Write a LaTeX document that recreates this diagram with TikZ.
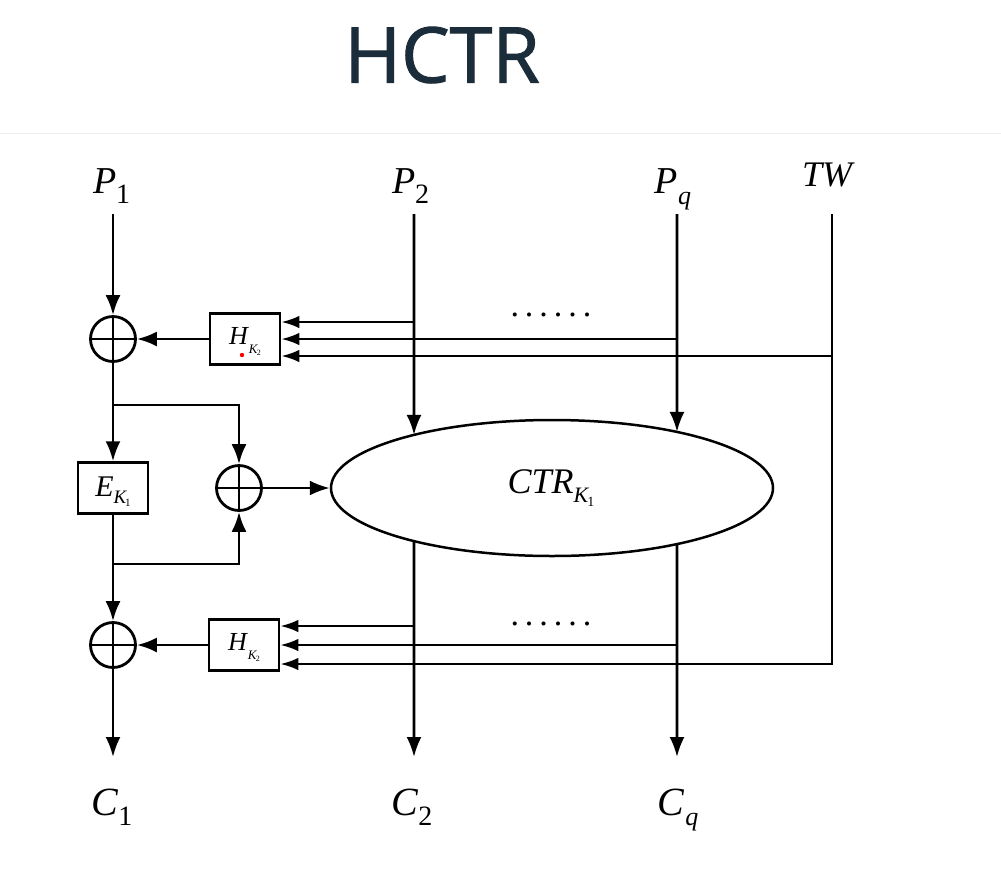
\documentclass[tikz,border=0pt]{standalone}
\usepackage{fontspec}
\setmainfont{Liberation Serif}
\newfontfamily\titlefont[FakeBold=1.3]{Open Sans}
\usetikzlibrary{arrows.meta,calc,intersections,shapes.geometric}
\definecolor{titleblue}{HTML}{1B2D3B}
\newcommand\slab[6]{{\fontsize{#3}{#3}\selectfont\itshape #1}\kern#6\raisebox{-#5}{\fontsize{#4}{#4}\selectfont #2}}
\newcommand\hkey{\raisebox{0pt}[17pt][6pt]{{\fontsize{26}{26}\selectfont\itshape H}\kern1pt\raisebox{-9pt}{\fontsize{13}{13}\selectfont\itshape K\kern-0.5pt\raisebox{-2pt}{\upshape\fontsize{8}{8}\selectfont 2}}}}
\begin{document}
\begin{tikzpicture}[x=1pt,y=-1pt,line width=2.6pt,
  arr/.style={-{Latex[length=20pt,width=15pt]}},
  arrs/.style={-{Latex[length=18pt,width=12.5pt]}},
  xorop/.style={circle,draw,line width=2.8pt,minimum size=45pt,inner sep=0pt,
    path picture={\draw[line width=2.5pt] (path picture bounding box.north) -- (path picture bounding box.south) (path picture bounding box.west) -- (path picture bounding box.east);}},
  fbox/.style={draw,line width=2.5pt,minimum width=70pt,minimum height=51pt,inner sep=0pt},
  lab/.style={anchor=base,inner sep=0pt}]
\fill[white] (0,0) rectangle (1001,868);
\useasboundingbox (0,0) rectangle (1001,868);
\draw[line width=1pt,black!7] (0,133) -- (1001,133);
% title
\node[text=titleblue,font=\titlefont\fontsize{77}{80}\selectfont,inner sep=0pt] (title) at (442,55) {HCTR};
% labels
\node[lab] (p1) at (112,193) {\slab{P}{1}{38pt}{28pt}{10pt}{-1pt}};
\node[lab] (p2) at (411,193) {\slab{P}{2}{38pt}{28pt}{10pt}{-1pt}};
\node[lab] (pq) at (673,193) {\slab{P}{\itshape q}{38pt}{26pt}{11pt}{0pt}};
\node[lab] (tw) at (827,186) {\fontsize{36}{36}\selectfont\itshape TW};
\node[lab] (c1) at (112,815) {\slab{C}{1}{40pt}{28pt}{10pt}{0pt}};
\node[lab] (c2) at (412,815) {\slab{C}{2}{40pt}{28pt}{10pt}{0pt}};
\node[lab] (cq) at (678,815) {\slab{C}{\itshape q}{40pt}{26pt}{10pt}{1pt}};
% blocks
\node[xorop] (x1) at (113,339) {};
\node[fbox] (hb1) at (245,339) {\hkey};
\node[fbox] (e) at (113,488) {\raisebox{0pt}[19pt][3pt]{{\fontsize{30}{30}\selectfont\itshape E}\raisebox{-7pt}{\fontsize{19}{19}\selectfont\itshape K\kern-1pt\raisebox{-3pt}{\upshape\fontsize{11}{11}\selectfont 1}}}};
\node[xorop] (x2) at (239,488) {};
\node[draw,ellipse,line width=2.5pt,minimum width=442pt,minimum height=136pt,inner sep=0pt,name path=ellp] (ell) at (552,488) {};
\node[lab] (ctr) at (551,493) {{\fontsize{36}{36}\selectfont\itshape CTR}\raisebox{-9pt}{\fontsize{22}{22}\selectfont\itshape K\kern-1pt\raisebox{-4pt}{\upshape\fontsize{14}{14}\selectfont 1}}};
\node[xorop] (x3) at (113,645) {};
\node[fbox] (hb2) at (244,645) {\hkey};
\fill[red] (242,355) circle (2.2pt);
% dots
\node[inner sep=0pt,font=\fontsize{34}{34}\selectfont] (dots1) at (551,315) {.\hspace{6pt}.\hspace{6pt}.\hspace{6pt}.\hspace{6pt}.\hspace{6pt}.};
\node[inner sep=0pt,font=\fontsize{34}{34}\selectfont] (dots2) at (551,624) {.\hspace{6pt}.\hspace{6pt}.\hspace{6pt}.\hspace{6pt}.\hspace{6pt}.};
% coordinates
\coordinate (p1t) at (113,214);
\coordinate (p2t) at (414,214);
\coordinate (pqt) at (677,214);
\coordinate (twt) at (832,214);
\coordinate (j1) at (113,405);
\coordinate (j2) at (113,564);
\coordinate (c1b) at (113,757);
\coordinate (c2b) at (414,757);
\coordinate (cqb) at (677,757);
\coordinate (ha1) at ($(hb1.east)+(0,-17)$);
\coordinate (ha2) at (hb1.east);
\coordinate (ha3) at ($(hb1.east)+(0,17)$);
\coordinate (hc1) at ($(hb2.east)+(0,-19)$);
\coordinate (hc2) at (hb2.east);
\coordinate (hc3) at ($(hb2.east)+(0,19)$);
\path[name path=v2] (p2t) -- (c2b);
\path[name path=vq] (pqt) -- (cqb);
\path[name intersections={of=v2 and ellp,sort by=v2,by={i2t,i2b}}];
\path[name intersections={of=vq and ellp,sort by=vq,by={iqt,iqb}}];
% left column
\draw[arr] (p1t) -- (x1.north);
\draw[arr] (hb1.west) -- (x1.east);
\draw (x1.south) -- (j1);
\draw[arr] (j1) -- (e.north);
\draw[arr] (j1) -| (x2.north);
\draw (e.south) -- (j2);
\draw[arr] (j2) -- (x3.north);
\draw[arr] (j2) -| (x2.south);
\draw[arr] (x2.east) -- (ell.west);
\draw[arr] (hb2.west) -- (x3.east);
\draw[arr] (x3.south) -- (c1b);
% top inputs
\draw[arr] (p2t) -- (i2t);
\draw[arr] (pqt) -- (iqt);
\draw[arrs] (p2t |- ha1) -- (ha1);
\draw[arrs] (pqt |- ha2) -- (ha2);
\draw[arrs] (twt |- ha3) -- (ha3);
% bottom
\draw[arr] (i2b) -- (c2b);
\draw[arr] (iqb) -- (cqb);
\draw[arrs] (c2b |- hc1) -- (hc1);
\draw[arrs] (cqb |- hc2) -- (hc2);
\draw[arrs,line join=miter] (twt) |- (hc3);
\end{tikzpicture}
\end{document}
